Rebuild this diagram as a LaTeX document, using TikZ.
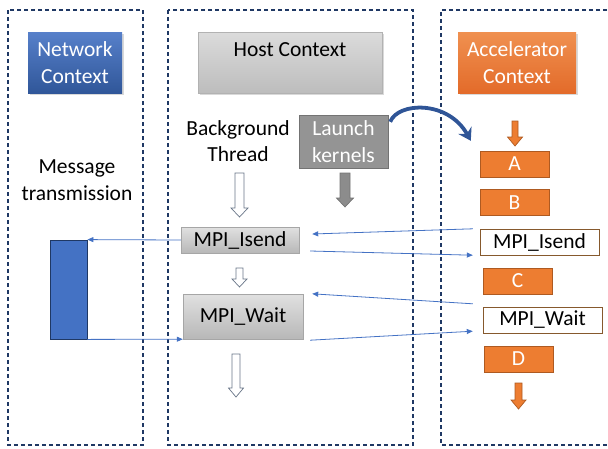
\documentclass[tikz,border=0pt]{standalone}
\usepackage{fontspec}
\setmainfont{Carlito}
\usetikzlibrary{arrows.meta,shadows}
\definecolor{navy}{HTML}{1F3864}
\definecolor{lnblue}{HTML}{4472C4}
\definecolor{dkblue}{HTML}{2F5597}
\definecolor{orng}{HTML}{ED7D31}
\definecolor{orngdk}{HTML}{AE5A21}
\definecolor{slate}{HTML}{44546A}
\newcommand{\myDownArrow}[7]{%
  \draw[#1] ({#2-#6},{#3}) -- ({#2+#6},{#3}) -- ({#2+#6},{#4}) -- ({#2+#7},{#4})
    -- ({#2},{#5}) -- ({#2-#7},{#4}) -- ({#2-#6},{#4}) -- cycle;}
\tikzset{
  ctx/.style={draw=navy, line width=1.4pt, dash pattern=on 4pt off 3pt},
  txt/.style={font=\fontsize{21.5}{26.5}\selectfont, align=center, inner sep=0pt},
  hdr/.style={txt, minimum width=#1, minimum height=61pt,
     drop shadow={shadow xshift=1.5pt, shadow yshift=-1.5pt, opacity=0.3}},
  graybox/.style={txt, draw=black!35, top color=black!12, bottom color=black!28},
  orbox/.style={txt, draw=orngdk, fill=orng, text=white, minimum width=69pt, minimum height=26pt},
  wbox/.style={txt, draw=brown!70!black, fill=white, minimum width=119pt, minimum height=26pt},
  conn/.style={draw=lnblue, line width=0.8pt, -{Triangle[length=6pt,width=5pt]}},
  hollow/.style={draw=slate!80, line width=0.7pt, fill=white},
  grayarr/.style={draw=black!55, line width=0.7pt, fill=black!45},
  orarr/.style={draw=orngdk, line width=0.7pt, fill=orng},
}
\begin{document}
\begin{tikzpicture}[x=1pt,y=-1pt]
\useasboundingbox (0,0) rectangle (608,448);
% context frames
\draw[ctx] (8,10) rectangle (143,445);
\draw[ctx] (168,10) rectangle (413,445);
\draw[ctx] (614,10) -- (441,10) -- (441,445) -- (614,445);

% headers
\node[hdr=94pt, text=white, top color=lnblue!90!white, bottom color=dkblue!95!lnblue, draw=none] (net) at (75,62.5) {Network\\Context};
\node[hdr=184pt, top color=black!14, bottom color=black!26, draw=black!30] (host) at (290,62.5) {};
\node[txt] (hosttxt) at (290,50) {Host Context};
\node[hdr=118pt, text=white, top color=orng!85!white, bottom color=orng!90!red!95!black, draw=none] (acc) at (517,62.5) {Accelerator\\Context};

% network column
\node[txt] (msg) at (77,180) {Message\\transmission};
\node[draw=navy, fill=lnblue, line width=0.8pt, minimum width=37pt, minimum height=99pt, inner sep=0pt] (netbar) at (68.5,289.5) {};

% host column
\node[txt] (bg) at (238,141) {Background\\Thread};
\node[txt, draw=black!55, fill=black!42, text=white, minimum width=89pt, minimum height=53pt] (launch) at (343.5,141.5) {Launch\\kernels};
\node[graybox, minimum width=118pt, minimum height=26pt] (hisend) at (240,240) {MPI\_Isend};
\node[graybox, minimum width=120pt, minimum height=45pt] (hwait) at (243,316.5) {MPI\_Wait};

% accelerator column
\node[orbox] (A) at (514.5,164) {A};
\node[orbox] (B) at (514.5,202.5) {B};
\node[wbox] (aisend) at (539.5,242) {MPI\_Isend};
\node[orbox] (C) at (517.5,281) {C};
\node[wbox] (await) at (542.5,320) {MPI\_Wait};
\node[orbox] (D) at (518.5,359) {D};

% block arrows
\myDownArrow{hollow}{239.5}{173}{208}{217}{4.5}{8.5}
\myDownArrow{hollow}{239.5}{268}{279}{287}{3.5}{7.5}
\myDownArrow{hollow}{236}{354}{388}{397}{4}{7.5}
\myDownArrow{grayarr}{345}{173}{198}{207}{5}{8.5}
\myDownArrow{orarr}{515}{121}{137}{146}{3}{7.5}
\myDownArrow{orarr}{518.5}{383}{400}{409}{3.5}{7.5}

% curved launch arrow
\draw[dkblue, line width=3.8pt, -{Stealth[length=12pt,width=15pt]}]
  ([xshift=2pt,yshift=-7pt]launch.north east) .. controls (398,102) and (448,100) .. ([xshift=-9pt,yshift=10pt]A.north west);

% connectors
\draw[conn] (hisend.west) -- (netbar.north east);
\draw[conn] (netbar.south east) -- (hwait.south west);
\draw[conn] ([xshift=-7pt]aisend.north west) -- ([xshift=13pt,yshift=6pt]hisend.east);
\draw[conn] ([xshift=11pt,yshift=-11pt]hisend.east) -- ([xshift=-7pt]aisend.south west);
\draw[conn] ([xshift=-10pt,yshift=3pt]await.north west) -- ([xshift=9pt]hwait.north east);
\draw[conn] ([xshift=7pt,yshift=-1pt]hwait.south east) -- ([xshift=-10pt,yshift=2pt]await.south west);
\end{tikzpicture}
\end{document}
